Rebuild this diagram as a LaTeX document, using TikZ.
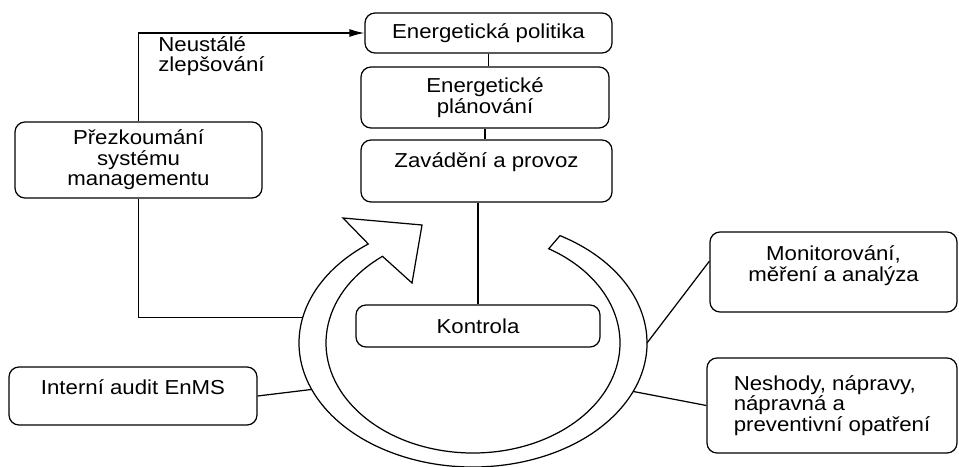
\documentclass[tikz,border=0pt]{standalone}
\usepackage{fontspec}
\setmainfont{Liberation Sans}[FakeStretch=1.1]
\usetikzlibrary{arrows.meta,calc}

\begin{document}
\begin{tikzpicture}[scale=1,
		font=\fontsize{11.5}{11.6}\selectfont,
		blok/.style={draw, rounded corners=2mm, line width=0.7pt, align=center, inner sep=2pt},
		spoj/.style={line width=0.7pt},
		sipka/.style={spoj, -{Latex[length=3mm,width=1.6mm]}}]
		\useasboundingbox (0,0) rectangle (19.18,9.32);
		% Stred kruhu
		\coordinate (C) at (9.46,2.46);
		% Bloky uprostred
		\node[blok, minimum width=4.94cm, minimum height=0.80cm] (pol) at (9.77,8.66) {Energetická politika};
		\node[blok, minimum width=4.96cm, minimum height=1.22cm] (plan) at (9.70,7.37) {Energetické\\plánování};
		\node[blok, minimum width=5.02cm, minimum height=1.24cm, text height=0.3cm, text depth=0.42cm] (zav) at (9.73,5.90) {Zavádění a provoz};
		\node[blok, minimum width=4.88cm, minimum height=0.84cm] (kon) at (9.56,2.80) {Kontrola};
		% Bloky vlevo
		\node[blok, minimum width=4.94cm, minimum height=1.52cm] (prez) at (2.77,6.12) {Přezkoumání\\systému\\managementu};
		\node[blok, minimum width=4.96cm, minimum height=1.16cm, text height=0.3cm, text depth=0.38cm] (aud) at (2.66,1.40) {Interní audit EnMS};
		% Bloky vpravo
		\node[blok, minimum width=4.94cm, minimum height=1.60cm] (mon) at (16.67,3.88) {Monitorování,\\měření a analýza\\[-2pt]\mbox{}};
		\node[blok, align=left, minimum width=5.00cm, minimum height=1.90cm] (nes) at (16.64,1.21) {Neshody, nápravy,\\nápravná a\\preventivní opatření};
		% Popisek
		\node[anchor=west, align=left, inner sep=0pt] (nz) at (3.16,8.20) {Neustálé\\zlepšování};
		% Kruh se sipkou
		\draw[spoj] ($(C)+(60:3.48 and 2.48)$) arc[start angle=60, end angle=-233, x radius=3.48, y radius=2.48]
			-- (6.86,4.96) -- (8.44,4.82) -- (8.24,3.66)
			-- ($(C)+(128:2.94 and 2.20)$) arc[start angle=128, end angle=419, x radius=2.94, y radius=2.20] -- cycle;
		% Body na kruhu
		\coordinate (k1) at ($(C)+(168:3.48 and 2.48)$);
		\coordinate (k2) at ($(C)+(202:3.48 and 2.48)$);
		\coordinate (k3) at ($(C)+(0:3.48 and 2.48)$);
		\coordinate (k4) at ($(C)+(337:3.48 and 2.48)$);
		% Spojnice
		\draw[spoj] (pol.south) -- (pol.south |- plan.north);
		\draw[spoj] (plan.south) -- (plan.south |- zav.north);
		\draw[spoj] (kon.north) -- (kon.north |- zav.south);
		\draw[sipka] (prez.north) |- (pol.west);
		\draw[spoj] (prez.south) |- (k1);
		\draw[spoj] (aud.east) -- (k2);
		\draw[spoj] (k3) -- (mon.175);
		\draw[spoj] (k4) -- (nes.west);
	\end{tikzpicture}
\end{document}
